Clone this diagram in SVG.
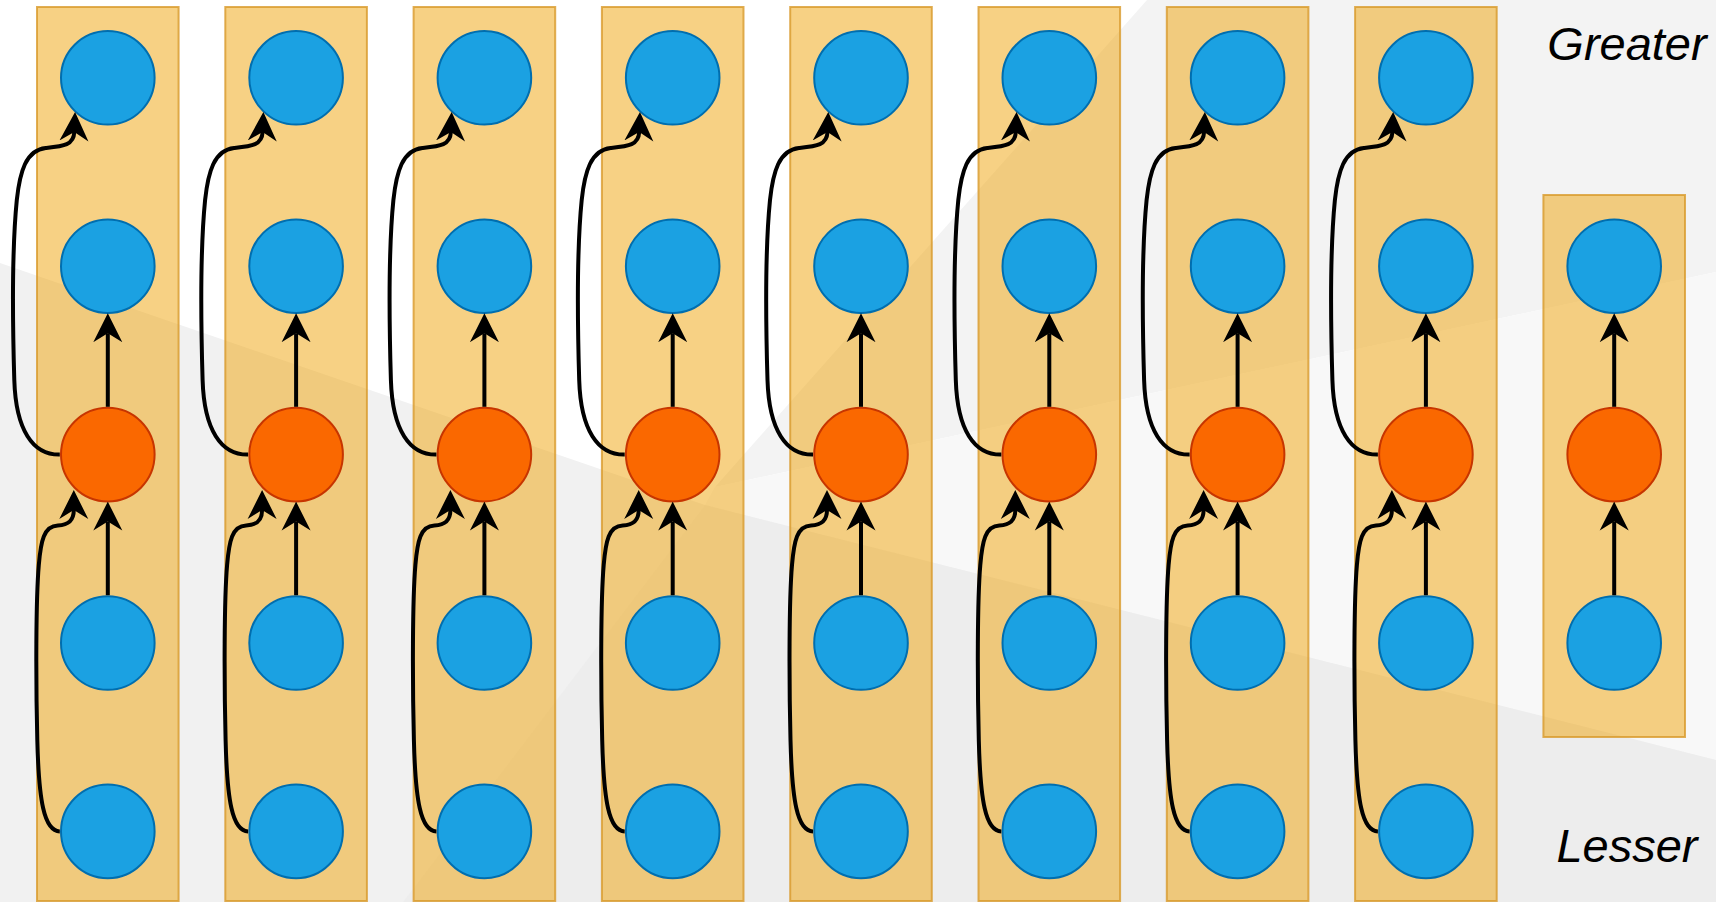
<svg xmlns="http://www.w3.org/2000/svg" xmlns:xlink="http://www.w3.org/1999/xlink" width="1716" height="902" viewBox="0 0 1716 902">
<style>
.col{fill:#f0a30a;fill-opacity:0.5;stroke:#d89a2a;stroke-opacity:0.8;stroke-width:2}
.blue{fill:#1ba1e2;stroke:#006eaf;stroke-width:2}
.orange{fill:#fa6800;stroke:#c73500;stroke-width:2}
.edge path{fill:none;stroke:#000;stroke-width:4;marker-end:url(#arr)}
.lbl{font-family:"Liberation Sans",Arial,sans-serif;font-style:italic;font-size:47px;fill:#000;text-anchor:middle}
</style>
<defs>
<marker id="arr" markerUnits="userSpaceOnUse" viewBox="0 -15 29 30" refX="9" refY="0" markerWidth="29" markerHeight="30" orient="auto">
<path d="M0,-14.5 L29,0 L0,14.5 L9,0 Z" fill="#000"/>
</marker>
</defs>
<g id="background">
<rect width="1716" height="902" fill="#ffffff"/>
<polygon points="1147,0 1716,0 1716,272 715,487" fill="#f3f3f3"/>
<polygon points="715,487 1716,272 1716,760 705,505" fill="#f8f8f8"/>
<polygon points="0,263 705,505 1716,760 1716,902 0,902" fill="#f1f1f1"/>
<polygon points="705,505 1716,760 1716,902 403,902" fill="#ededed"/>
</g>
<g id="columns">
<g id="col-1"><rect class="col" x="37" y="7" width="141.6" height="894"/></g>
<g id="col-2"><rect class="col" x="225.3" y="7" width="141.6" height="894"/></g>
<g id="col-3"><rect class="col" x="413.6" y="7" width="141.6" height="894"/></g>
<g id="col-4"><rect class="col" x="601.9" y="7" width="141.6" height="894"/></g>
<g id="col-5"><rect class="col" x="790.2" y="7" width="141.6" height="894"/></g>
<g id="col-6"><rect class="col" x="978.5" y="7" width="141.6" height="894"/></g>
<g id="col-7"><rect class="col" x="1166.8" y="7" width="141.6" height="894"/></g>
<g id="col-8"><rect class="col" x="1355.1" y="7" width="141.6" height="894"/></g>
<g id="col-9"><rect class="col" x="1543.4" y="195" width="141.6" height="542"/></g>
</g>
<g id="nodes">
<g id="n1-1"><circle class="blue" cx="107.8" cy="77.8" r="46.8"/></g>
<g id="n1-2"><circle class="blue" cx="107.8" cy="266.2" r="46.8"/></g>
<g id="n1-3"><circle class="orange" cx="107.8" cy="454.6" r="46.8"/></g>
<g id="n1-4"><circle class="blue" cx="107.8" cy="643" r="46.8"/></g>
<g id="n1-5"><circle class="blue" cx="107.8" cy="831.4" r="46.8"/></g>
<g id="n2-1"><circle class="blue" cx="296.1" cy="77.8" r="46.8"/></g>
<g id="n2-2"><circle class="blue" cx="296.1" cy="266.2" r="46.8"/></g>
<g id="n2-3"><circle class="orange" cx="296.1" cy="454.6" r="46.8"/></g>
<g id="n2-4"><circle class="blue" cx="296.1" cy="643" r="46.8"/></g>
<g id="n2-5"><circle class="blue" cx="296.1" cy="831.4" r="46.8"/></g>
<g id="n3-1"><circle class="blue" cx="484.4" cy="77.8" r="46.8"/></g>
<g id="n3-2"><circle class="blue" cx="484.4" cy="266.2" r="46.8"/></g>
<g id="n3-3"><circle class="orange" cx="484.4" cy="454.6" r="46.8"/></g>
<g id="n3-4"><circle class="blue" cx="484.4" cy="643" r="46.8"/></g>
<g id="n3-5"><circle class="blue" cx="484.4" cy="831.4" r="46.8"/></g>
<g id="n4-1"><circle class="blue" cx="672.7" cy="77.8" r="46.8"/></g>
<g id="n4-2"><circle class="blue" cx="672.7" cy="266.2" r="46.8"/></g>
<g id="n4-3"><circle class="orange" cx="672.7" cy="454.6" r="46.8"/></g>
<g id="n4-4"><circle class="blue" cx="672.7" cy="643" r="46.8"/></g>
<g id="n4-5"><circle class="blue" cx="672.7" cy="831.4" r="46.8"/></g>
<g id="n5-1"><circle class="blue" cx="861" cy="77.8" r="46.8"/></g>
<g id="n5-2"><circle class="blue" cx="861" cy="266.2" r="46.8"/></g>
<g id="n5-3"><circle class="orange" cx="861" cy="454.6" r="46.8"/></g>
<g id="n5-4"><circle class="blue" cx="861" cy="643" r="46.8"/></g>
<g id="n5-5"><circle class="blue" cx="861" cy="831.4" r="46.8"/></g>
<g id="n6-1"><circle class="blue" cx="1049.3" cy="77.8" r="46.8"/></g>
<g id="n6-2"><circle class="blue" cx="1049.3" cy="266.2" r="46.8"/></g>
<g id="n6-3"><circle class="orange" cx="1049.3" cy="454.6" r="46.8"/></g>
<g id="n6-4"><circle class="blue" cx="1049.3" cy="643" r="46.8"/></g>
<g id="n6-5"><circle class="blue" cx="1049.3" cy="831.4" r="46.8"/></g>
<g id="n7-1"><circle class="blue" cx="1237.6" cy="77.8" r="46.8"/></g>
<g id="n7-2"><circle class="blue" cx="1237.6" cy="266.2" r="46.8"/></g>
<g id="n7-3"><circle class="orange" cx="1237.6" cy="454.6" r="46.8"/></g>
<g id="n7-4"><circle class="blue" cx="1237.6" cy="643" r="46.8"/></g>
<g id="n7-5"><circle class="blue" cx="1237.6" cy="831.4" r="46.8"/></g>
<g id="n8-1"><circle class="blue" cx="1425.9" cy="77.8" r="46.8"/></g>
<g id="n8-2"><circle class="blue" cx="1425.9" cy="266.2" r="46.8"/></g>
<g id="n8-3"><circle class="orange" cx="1425.9" cy="454.6" r="46.8"/></g>
<g id="n8-4"><circle class="blue" cx="1425.9" cy="643" r="46.8"/></g>
<g id="n8-5"><circle class="blue" cx="1425.9" cy="831.4" r="46.8"/></g>
<g id="n9-2"><circle class="blue" cx="1614.2" cy="266.2" r="46.8"/></g>
<g id="n9-3"><circle class="orange" cx="1614.2" cy="454.6" r="46.8"/></g>
<g id="n9-4"><circle class="blue" cx="1614.2" cy="643" r="46.8"/></g>
</g>
<g id="connectors" class="edge">
<g transform="translate(107.8,0)">
<path d="M0,595.2 L0,521.6"/><path d="M0,406.8 L0,333.2"/>
<path d="M-48,454.6 C-75,455 -92,430 -93.5,380 C-95,330 -96,250 -91,200 C-88,172 -82,150 -62,148 C-44,146 -34,145 -33.5,132"/>
<path d="M-48,831.4 C-64,831 -69,800 -70.5,740 C-72,680 -72,600 -69,565 C-67,541 -64,526 -50,525.5 C-40,525 -34,521 -34,510"/>
</g>
<g transform="translate(296.1,0)">
<path d="M0,595.2 L0,521.6"/><path d="M0,406.8 L0,333.2"/>
<path d="M-48,454.6 C-75,455 -92,430 -93.5,380 C-95,330 -96,250 -91,200 C-88,172 -82,150 -62,148 C-44,146 -34,145 -33.5,132"/>
<path d="M-48,831.4 C-64,831 -69,800 -70.5,740 C-72,680 -72,600 -69,565 C-67,541 -64,526 -50,525.5 C-40,525 -34,521 -34,510"/>
</g>
<g transform="translate(484.4,0)">
<path d="M0,595.2 L0,521.6"/><path d="M0,406.8 L0,333.2"/>
<path d="M-48,454.6 C-75,455 -92,430 -93.5,380 C-95,330 -96,250 -91,200 C-88,172 -82,150 -62,148 C-44,146 -34,145 -33.5,132"/>
<path d="M-48,831.4 C-64,831 -69,800 -70.5,740 C-72,680 -72,600 -69,565 C-67,541 -64,526 -50,525.5 C-40,525 -34,521 -34,510"/>
</g>
<g transform="translate(672.7,0)">
<path d="M0,595.2 L0,521.6"/><path d="M0,406.8 L0,333.2"/>
<path d="M-48,454.6 C-75,455 -92,430 -93.5,380 C-95,330 -96,250 -91,200 C-88,172 -82,150 -62,148 C-44,146 -34,145 -33.5,132"/>
<path d="M-48,831.4 C-64,831 -69,800 -70.5,740 C-72,680 -72,600 -69,565 C-67,541 -64,526 -50,525.5 C-40,525 -34,521 -34,510"/>
</g>
<g transform="translate(861,0)">
<path d="M0,595.2 L0,521.6"/><path d="M0,406.8 L0,333.2"/>
<path d="M-48,454.6 C-75,455 -92,430 -93.5,380 C-95,330 -96,250 -91,200 C-88,172 -82,150 -62,148 C-44,146 -34,145 -33.5,132"/>
<path d="M-48,831.4 C-64,831 -69,800 -70.5,740 C-72,680 -72,600 -69,565 C-67,541 -64,526 -50,525.5 C-40,525 -34,521 -34,510"/>
</g>
<g transform="translate(1049.3,0)">
<path d="M0,595.2 L0,521.6"/><path d="M0,406.8 L0,333.2"/>
<path d="M-48,454.6 C-75,455 -92,430 -93.5,380 C-95,330 -96,250 -91,200 C-88,172 -82,150 -62,148 C-44,146 -34,145 -33.5,132"/>
<path d="M-48,831.4 C-64,831 -69,800 -70.5,740 C-72,680 -72,600 -69,565 C-67,541 -64,526 -50,525.5 C-40,525 -34,521 -34,510"/>
</g>
<g transform="translate(1237.6,0)">
<path d="M0,595.2 L0,521.6"/><path d="M0,406.8 L0,333.2"/>
<path d="M-48,454.6 C-75,455 -92,430 -93.5,380 C-95,330 -96,250 -91,200 C-88,172 -82,150 -62,148 C-44,146 -34,145 -33.5,132"/>
<path d="M-48,831.4 C-64,831 -69,800 -70.5,740 C-72,680 -72,600 -69,565 C-67,541 -64,526 -50,525.5 C-40,525 -34,521 -34,510"/>
</g>
<g transform="translate(1425.9,0)">
<path d="M0,595.2 L0,521.6"/><path d="M0,406.8 L0,333.2"/>
<path d="M-48,454.6 C-75,455 -92,430 -93.5,380 C-95,330 -96,250 -91,200 C-88,172 -82,150 -62,148 C-44,146 -34,145 -33.5,132"/>
<path d="M-48,831.4 C-64,831 -69,800 -70.5,740 C-72,680 -72,600 -69,565 C-67,541 -64,526 -50,525.5 C-40,525 -34,521 -34,510"/>
</g>
<g transform="translate(1614.2,0)">
<path d="M0,595.2 L0,521.6"/><path d="M0,406.8 L0,333.2"/>
</g>
</g>
<g id="labels">
<text class="lbl" x="1627" y="60">Greater</text>
<text class="lbl" x="1627" y="861.7">Lesser</text>
</g>
</svg>
